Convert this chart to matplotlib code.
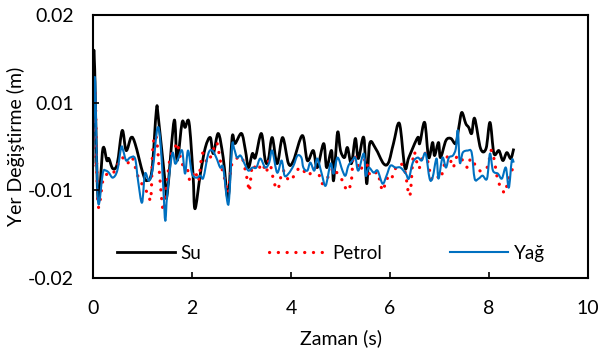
import matplotlib
matplotlib.use("Agg")
import matplotlib.pyplot as plt
from matplotlib.path import Path
from matplotlib.patches import PathPatch
from matplotlib.lines import Line2D
import numpy as np

plt.rcParams['font.family'] = ['Lato', 'DejaVu Sans']

# time (s) and displacement (mm)
su_t = [0.00, 0.02, 0.10, 0.20, 0.28, 0.32, 0.40, 0.49, 0.59, 0.67, 0.77, 0.85, 1.01, 1.09, 1.19,
        1.28, 1.32, 1.46, 1.50, 1.64, 1.70, 1.80, 1.86, 1.94, 2.02, 2.06, 2.17, 2.27, 2.37, 2.43,
        2.53, 2.63, 2.73, 2.81, 2.87, 3.00, 3.08, 3.14, 3.22, 3.28, 3.40, 3.48, 3.54, 3.62, 3.72,
        3.83, 3.95, 4.05, 4.23, 4.33, 4.45, 4.53, 4.66, 4.72, 4.82, 4.86, 4.94, 5.00, 5.08, 5.14,
        5.22, 5.30, 5.36, 5.47, 5.53, 5.59, 5.71, 5.87, 5.97, 6.07, 6.19, 6.30, 6.38, 6.56, 6.60,
        6.70, 6.78, 6.86, 6.90, 6.98, 7.02, 7.13, 7.23, 7.33, 7.39, 7.45, 7.53, 7.59, 7.65, 7.71,
        7.83, 7.94, 8.02, 8.10, 8.20, 8.28, 8.36, 8.44, 8.50]
su_mm = [-1.95, 10.99, -5.84, -0.23, -1.60, -1.37, -2.52, -1.95, 1.83, -0.46, 1.03, 0.34, -3.09, -3.89, -2.75,
         4.12, 3.32, -4.24, -5.38, 2.98, -1.60, 2.75, 2.18, 2.75, -3.09, -7.10, -3.09, -0.11, 1.03, -0.80,
         1.49, -1.26, -5.84, 1.03, 0.34, 1.49, -0.46, -2.40, -0.80, -1.26, 1.49, -1.60, -1.60, 1.03, -1.95,
         1.03, -1.95, -1.60, 1.26, -1.60, -0.46, -2.40, 0.34, -2.40, -0.46, -3.89, 1.60, -0.46, -1.26, -0.11,
         -1.95, 0.92, -1.37, 1.03, -4.24, 0.34, -0.23, -1.95, -1.83, 0.34, 2.63, -2.40, -1.26, 1.03, 0.34,
         2.75, -1.26, 0.46, -1.03, 0.46, -1.26, 0.69, 0.92, 0.34, 2.18, 3.89, 2.63, 2.18, 1.49, 3.21,
         -0.23, -0.23, 2.75, -0.80, -0.46, -1.60, -0.69, -1.37, -0.23]

petrol_t = [0.00, 0.04, 0.10, 0.20, 0.30, 0.40, 0.51, 0.59, 0.69, 0.79, 0.89, 0.95, 1.11, 1.17, 1.21,
            1.28, 1.36, 1.42, 1.48, 1.56, 1.66, 1.70, 1.80, 1.90, 1.96, 2.06, 2.13, 2.21, 2.31, 2.41,
            2.49, 2.53, 2.59, 2.67, 2.73, 2.79, 2.85, 2.94, 3.02, 3.12, 3.16, 3.22, 3.32, 3.42, 3.50,
            3.56, 3.66, 3.74, 3.83, 3.93, 3.99, 4.09, 4.19, 4.35, 4.45, 4.55, 4.64, 4.80, 4.86, 4.96,
            5.04, 5.14, 5.22, 5.26, 5.34, 5.40, 5.51, 5.57, 5.67, 5.75, 5.85, 5.93, 6.01, 6.11, 6.21,
            6.30, 6.40, 6.48, 6.58, 6.68, 6.76, 6.84, 6.94, 7.02, 7.11, 7.19, 7.27, 7.33, 7.39, 7.47,
            7.57, 7.63, 7.73, 7.81, 7.89, 7.98, 8.04, 8.10, 8.18, 8.26, 8.32, 8.40, 8.48, 8.50]
petrol_mm = [-2.18, 6.41, -6.53, -3.89, -3.09, -3.09, -1.95, -1.26, -1.95, -1.26, -3.09, -3.89, -5.38, -5.84, -0.11,
             1.03, -4.24, -7.33, -4.69, -1.26, -0.11, 0.34, -1.95, -2.40, -3.89, -2.75, -3.89, -0.80, -1.83, -0.69,
             0.46, -0.23, -2.18, -3.89, -5.27, -2.40, -1.60, -1.26, -1.37, -3.89, -5.04, -2.18, -2.75, -1.95, -2.98,
             -1.60, -4.12, -4.81, -2.75, -3.66, -3.89, -3.09, -2.40, -3.32, -2.40, -2.98, -4.24, -2.98, -2.40, -3.32,
             -3.89, -5.04, -3.89, -1.03, -1.83, -2.75, -1.37, -2.98, -3.32, -2.98, -5.04, -3.66, -3.89, -2.52, -1.95,
             -2.75, -5.61, -0.69, -2.52, -0.69, -1.60, -3.66, -3.32, -3.66, -1.83, -1.03, -2.40, -1.37, -1.03, -1.60,
             -2.40, -1.37, -2.18, -2.75, -2.75, -2.18, -0.46, -1.37, -3.89, -4.69, -5.27, -3.55, -2.52, -2.18]

yag_t = [0.00, 0.04, 0.10, 0.20, 0.26, 0.32, 0.40, 0.49, 0.57, 0.61, 0.67, 0.75, 0.85, 0.91, 0.99,
         1.05, 1.13, 1.21, 1.30, 1.36, 1.42, 1.46, 1.50, 1.60, 1.66, 1.72, 1.80, 1.86, 1.92, 2.00,
         2.09, 2.17, 2.23, 2.33, 2.41, 2.49, 2.57, 2.63, 2.71, 2.75, 2.81, 2.85, 2.91, 2.98, 3.06,
         3.14, 3.22, 3.30, 3.38, 3.48, 3.56, 3.62, 3.72, 3.81, 3.87, 3.95, 4.05, 4.13, 4.21, 4.25,
         4.33, 4.39, 4.47, 4.53, 4.62, 4.70, 4.80, 4.86, 4.94, 5.04, 5.10, 5.16, 5.24, 5.30, 5.36,
         5.47, 5.51, 5.57, 5.67, 5.75, 5.85, 5.93, 6.01, 6.11, 6.21, 6.32, 6.38, 6.46, 6.56, 6.64,
         6.72, 6.80, 6.86, 6.94, 6.98, 7.06, 7.13, 7.19, 7.27, 7.33, 7.37, 7.41, 7.47, 7.57, 7.65,
         7.71, 7.79, 7.87, 7.96, 8.02, 8.08, 8.18, 8.26, 8.34, 8.40, 8.46, 8.50]
yag_mm = [-2.40, 7.90, -6.18, -2.98, -2.75, -2.98, -3.55, -2.75, -0.11, -0.46, -1.60, -1.26, -1.37, -3.89, -6.41,
          -3.09, -3.89, -2.40, 2.06, 0.69, -4.69, -8.47, -5.38, -0.80, -1.95, -1.37, -0.46, -3.09, -0.46, -3.09,
          -3.55, -3.32, -3.55, -0.80, -0.46, -1.26, -2.40, -2.40, -6.18, -5.95, 0.11, -0.23, -1.26, -1.03, -1.95,
          -2.75, -2.40, -2.40, -1.37, -2.40, -1.83, -0.46, -2.98, -1.60, -3.32, -3.09, -2.18, -1.03, -1.26, -2.40,
          -2.75, -1.83, -2.75, -1.37, -3.09, -4.47, -1.95, -3.09, -1.26, -2.75, -3.32, -2.18, -1.60, -1.26, -2.75,
          -0.80, -3.32, -2.40, -2.98, -2.75, -4.24, -3.32, -2.18, -2.40, -2.40, -3.09, -3.66, -1.83, -1.26, -1.60,
          -0.80, -3.66, -3.55, -1.37, -3.66, -1.26, -2.40, -1.26, -1.03, -0.23, 1.83, -1.83, -0.69, -0.46, -0.69,
          -3.66, -3.66, -3.32, -3.66, -0.80, -2.75, -3.09, -3.66, -2.40, -4.69, -1.60, -1.83]

x_ticks = [0, 2, 4, 6, 8, 10]
y_ticks = [0.015, 0.005, -0.005, -0.015]
y_tick_labels = ['0.02', '0.01', '-0.01', '-0.02']


def smooth_path(t, y):
    # Excel-style smoothed line: Catmull-Rom segments as cubic Beziers
    p = np.column_stack([t, y])
    verts = [p[0]]
    codes = [Path.MOVETO]
    n = len(p)
    for i in range(n - 1):
        p0 = p[max(i - 1, 0)]
        p1 = p[i]
        p2 = p[i + 1]
        p3 = p[min(i + 2, n - 1)]
        c1 = p1 + (p2 - p0) / 6
        c2 = p2 - (p3 - p1) / 6
        verts += [c1, c2, p2]
        codes += [Path.CURVE4] * 3
    return Path(verts, codes)


fig = plt.figure(figsize=(6, 3.51), dpi=100)
ax = fig.add_axes([0.155, 0.208, 0.825, 0.749])

series = [
    (su_t, su_mm, dict(edgecolor='black', lw=2.0), 'Su'),
    (petrol_t, petrol_mm, dict(edgecolor='#FF0000', lw=2.3, linestyle=(0, (0.05, 2.7)), capstyle='round'), 'Petrol'),
    (yag_t, yag_mm, dict(edgecolor='#0070C0', lw=1.5), 'Yağ'),
]
handles = []
for t, mm, style, name in series:
    path = smooth_path(t, np.array(mm) / 1000)
    ax.add_patch(PathPatch(path, facecolor='none', joinstyle='round', **style))
    handles.append(Line2D([], [], color=style['edgecolor'], lw=style['lw'],
                          ls=style.get('linestyle', '-'),
                          dash_capstyle=style.get('capstyle', 'butt'), label=name))

ax.set_xlim(0, 10)
ax.set_ylim(-0.015, 0.015)
ax.set_xticks(x_ticks)
ax.set_yticks(y_ticks)
ax.set_yticklabels(y_tick_labels)
ax.tick_params(direction='in', length=4, width=1.2, labelsize=14, colors='black')
ax.tick_params(axis='x', pad=16)
ax.tick_params(axis='y', pad=14)
for s in ax.spines.values():
    s.set_linewidth(1.5)

ax.set_xlabel('Zaman (s)', fontsize=14, labelpad=9)
ax.set_ylabel('Yer Değiştirme (m)', fontsize=14, labelpad=2)

ax.legend(handles=handles, loc='center left', bbox_to_anchor=(0.048, 0.095), ncol=3, frameon=False,
          fontsize=13.5, borderpad=0, borderaxespad=0, handlelength=3.1, handletextpad=0.3,
          columnspacing=3.6)

fig.savefig('out.png', dpi=100)
